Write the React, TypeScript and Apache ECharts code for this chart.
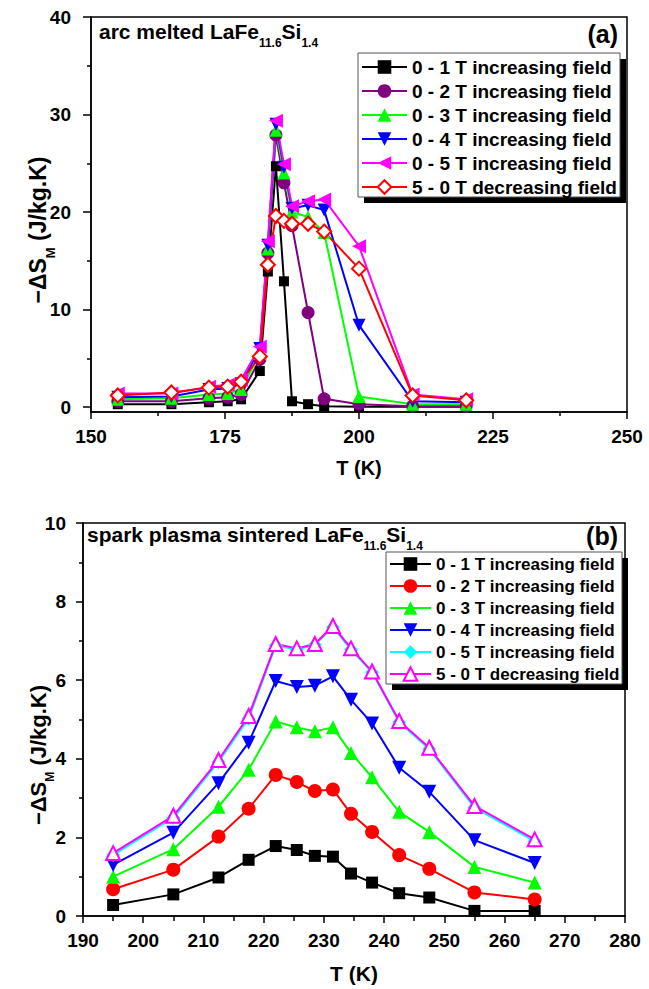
import React, { useEffect, useRef } from "react";
import * as echarts from "echarts";

const FONT = "'Liberation Sans', Arial, Helvetica, sans-serif";

// ---------- Panel (a): arc melted ----------
const tempA = [155, 165, 172, 175.5, 178, 181.5, 183, 184.5, 186, 187.5, 190.5, 193.5, 200, 210, 220];
const a01 = [0.3, 0.3, 0.5, 0.6, 0.8, 3.7, 13.9, 24.7, 12.9, 0.6, 0.3, 0.1, 0.05, 0.05, 0.05];
const a02 = [0.6, 0.6, 0.9, 1.0, 1.3, 4.9, 15.8, 27.9, 23.0, 18.6, 9.7, 0.85, 0.3, 0.1, 0.1];
const a03 = [0.8, 0.9, 1.3, 1.4, 1.8, 5.5, 16.2, 28.4, 24.0, 20.0, 19.5, 17.9, 1.1, 0.3, 0.3];
const a04 = [1.0, 1.1, 1.8, 1.9, 2.4, 6.0, 16.6, 29.0, 24.6, 20.4, 20.7, 20.2, 8.4, 0.6, 0.5];
const a05 = [1.4, 1.4, 2.1, 2.3, 2.8, 6.2, 17.0, 29.35, 24.9, 20.6, 21.1, 21.3, 16.5, 1.3, 0.8];
const a50 = [1.2, 1.5, 2.0, 2.1, 2.6, 5.2, 14.6, 19.6, 19.1, 18.8, 18.8, 18.0, 14.2, 1.2, 0.7];
const yTicksA = [0, 10, 20, 30, 40];
const yMinorA = [5, 15, 25, 35];

// ---------- Panel (b): spark plasma sintered ----------
const tempB = [195, 205, 212.5, 217.5, 222, 225.5, 228.5, 231.5, 234.5, 238, 242.5, 247.5, 255, 265];
const b01 = [0.28, 0.55, 0.98, 1.43, 1.78, 1.68, 1.53, 1.51, 1.08, 0.85, 0.58, 0.47, 0.13, 0.13];
const b02 = [0.68, 1.18, 2.02, 2.73, 3.59, 3.41, 3.18, 3.22, 2.6, 2.14, 1.55, 1.2, 0.6, 0.42];
const b03 = [1.0, 1.7, 2.78, 3.72, 4.95, 4.8, 4.7, 4.8, 4.15, 3.53, 2.65, 2.14, 1.25, 0.85];
const b04 = [1.3, 2.12, 3.38, 4.41, 5.98, 5.83, 5.86, 6.1, 5.5, 4.9, 3.77, 3.16, 1.93, 1.35];
const b05 = [1.55, 2.5, 3.92, 5.02, 6.88, 6.78, 6.9, 7.35, 6.78, 6.2, 4.93, 4.25, 2.76, 1.9];
const b50 = [1.6, 2.55, 3.97, 5.09, 6.92, 6.81, 6.92, 7.38, 6.81, 6.22, 4.96, 4.28, 2.8, 1.95];

const names = [
  "0 - 1 T increasing field",
  "0 - 2 T increasing field",
  "0 - 3 T increasing field",
  "0 - 4 T increasing field",
  "0 - 5 T increasing field",
  "5 - 0 T decreasing field",
];

const pairs = (xs: number[], ys: number[]) => xs.map((x, i) => [x, ys[i]]);

function mkSeries(
  name: string,
  xs: number[],
  ys: number[],
  color: string,
  symbol: string,
  size: number,
  rotate: number,
  open: boolean
) {
  return {
    type: "line",
    name,
    data: pairs(xs, ys),
    symbol,
    symbolSize: size,
    symbolRotate: rotate,
    showSymbol: true,
    showAllSymbol: true,
    lineStyle: { color, width: 2 },
    itemStyle: open
      ? { color: "#ffffff", borderColor: color, borderWidth: 2 }
      : { color, borderColor: color, borderWidth: 0 },
    emphasis: { disabled: true },
  };
}

const axisLineStyle = { color: "#000", width: 1.5 };
const labelStyle = { fontSize: 19, fontWeight: "bold", color: "#000", fontFamily: FONT };

function titleRich(main: number, sub: number, pad: number) {
  return {
    m: {
      fontSize: main,
      fontWeight: "bold",
      fontFamily: FONT,
      fill: "#000",
      color: "#000",
      lineHeight: main,
      verticalAlign: "top",
    },
    s: {
      fontSize: sub,
      fontWeight: "bold",
      fontFamily: FONT,
      fill: "#000",
      color: "#000",
      lineHeight: sub,
      verticalAlign: "top",
      padding: [pad, 0, 0, 0],
    },
  };
}

function textEl(x: number, y: number, text: string, size: number, align: string, valign: string) {
  return {
    type: "text",
    x,
    y,
    z: 30,
    style: {
      text,
      fill: "#000",
      fontSize: size,
      fontWeight: "bold",
      fontFamily: FONT,
      align,
      textAlign: align,
      verticalAlign: valign,
      textVerticalAlign: valign,
    },
  };
}

function richEl(
  x: number,
  y: number,
  text: string,
  rotation: number,
  align: string,
  valign: string,
  main: number,
  sub: number,
  pad: number
) {
  return {
    type: "text",
    x,
    y,
    rotation,
    z: 30,
    style: {
      text,
      fill: "#000",
      fontSize: main,
      fontWeight: "bold",
      fontFamily: FONT,
      align,
      textAlign: align,
      verticalAlign: valign,
      textVerticalAlign: valign,
      rich: titleRich(main, sub, pad),
    },
  };
}

function legendBox(x: number, y: number, w: number, h: number, off: number) {
  return [
    { type: "rect", z: 20, shape: { x: x + off, y: y + off, width: w, height: h }, style: { fill: "#000" } },
    { type: "rect", z: 21, shape: { x, y, width: w, height: h }, style: { fill: "#fff", stroke: "#555", lineWidth: 1 } },
  ];
}

function optionA() {
  return {
    animation: false,
    grid: { left: 91, top: 17, width: 536, height: 395, show: true, borderColor: "#000", borderWidth: 1.5, backgroundColor: "transparent" },
    xAxis: {
      type: "value",
      min: 150,
      max: 250,
      interval: 25,
      axisLine: { show: true, onZero: false, lineStyle: axisLineStyle },
      axisTick: { show: true, inside: false, length: 7, lineStyle: axisLineStyle },
      minorTick: { show: true, splitNumber: 2, length: 4, lineStyle: axisLineStyle },
      splitLine: { show: false },
      axisLabel: { ...labelStyle, margin: 15 },
      name: "T (K)",
      nameLocation: "middle",
      nameGap: 46,
      nameTextStyle: { fontSize: 20, fontWeight: "bold", color: "#000", fontFamily: FONT },
    },
    yAxis: [
      {
        type: "value",
        min: -0.5,
        max: 40,
        position: "left",
        axisLine: { show: true, onZero: false, lineStyle: axisLineStyle },
        axisTick: { show: true, inside: false, length: 8, customValues: yTicksA, lineStyle: axisLineStyle },
        axisLabel: { ...labelStyle, margin: 20, customValues: yTicksA },
        splitLine: { show: false },
      },
      {
        type: "value",
        min: -0.5,
        max: 40,
        position: "left",
        offset: 0,
        axisLine: { show: false, onZero: false },
        axisTick: { show: true, inside: false, length: 4, customValues: yMinorA, lineStyle: axisLineStyle },
        axisLabel: { show: false },
        splitLine: { show: false },
      },
    ],
    legend: {
      orient: "vertical",
      left: 361,
      top: 55,
      padding: 0,
      itemWidth: 45,
      itemHeight: 17,
      itemGap: 0,
      z: 25,
      selectedMode: false,
      textStyle: { fontSize: 19, fontWeight: "bold", color: "#000", fontFamily: FONT, lineHeight: 24 },
      data: names,
    },
    graphic: [
      ...legendBox(358, 53, 262, 144, 6),
      richEl(99, 21, "{m|arc melted LaFe}{s|11.6}{m|Si}{s|1.4}", 0, "left", "top", 21, 12, 16),
      textEl(618, 34, "(a)", 25, "right", "middle"),
      richEl(38, 230, "{m|−ΔS}{s|M}{m| (J/kg.K)}", Math.PI / 2, "center", "middle", 23, 13, 17),
    ],
    series: [
      mkSeries(names[0], tempA, a01, "#000000", "rect", 10, 0, false),
      mkSeries(names[1], tempA, a02, "#800080", "circle", 13, 0, false),
      mkSeries(names[2], tempA, a03, "#00ff00", "triangle", 13, 0, false),
      mkSeries(names[3], tempA, a04, "#0000ff", "triangle", 13, 180, false),
      mkSeries(names[4], tempA, a05, "#ff00ff", "triangle", 14, 90, false),
      mkSeries(names[5], tempA, a50, "#ff0000", "diamond", 14, 0, true),
    ],
  };
}

function optionB() {
  return {
    animation: false,
    grid: { left: 83, top: 28, width: 542, height: 400, show: true, borderColor: "#000", borderWidth: 1.5, backgroundColor: "transparent" },
    xAxis: {
      type: "value",
      min: 190,
      max: 280,
      interval: 10,
      axisLine: { show: true, onZero: false, lineStyle: axisLineStyle },
      axisTick: { show: true, inside: false, length: 7, lineStyle: axisLineStyle },
      minorTick: { show: true, splitNumber: 2, length: 5, lineStyle: axisLineStyle },
      splitLine: { show: false },
      axisLabel: { ...labelStyle, margin: 15 },
      name: "T (K)",
      nameLocation: "middle",
      nameGap: 47,
      nameTextStyle: { fontSize: 21, fontWeight: "bold", color: "#000", fontFamily: FONT },
    },
    yAxis: {
      type: "value",
      min: 0,
      max: 10,
      interval: 2,
      axisLine: { show: true, onZero: false, lineStyle: axisLineStyle },
      axisTick: { show: true, inside: false, length: 7, lineStyle: axisLineStyle },
      minorTick: { show: true, splitNumber: 2, length: 4, lineStyle: axisLineStyle },
      axisLabel: { ...labelStyle, margin: 17 },
      splitLine: { show: false },
    },
    legend: {
      orient: "vertical",
      left: 389,
      top: 58,
      padding: 0,
      itemWidth: 41,
      itemHeight: 17,
      itemGap: 0,
      z: 25,
      selectedMode: false,
      textStyle: { fontSize: 17, fontWeight: "bold", color: "#000", fontFamily: FONT, lineHeight: 22 },
      data: names,
    },
    graphic: [
      ...legendBox(386, 57, 236, 132, 6),
      richEl(87, 29, "{m|spark plasma sintered LaFe}{s|11.6}{m|Si}{s|1.4}", 0, "left", "top", 21, 12, 16),
      textEl(618, 41, "(b)", 25, "right", "middle"),
      richEl(38, 260, "{m|−ΔS}{s|M}{m| (J/kg.K)}", Math.PI / 2, "center", "middle", 22, 12, 17),
    ],
    series: [
      mkSeries(names[0], tempB, b01, "#000000", "rect", 12, 0, false),
      mkSeries(names[1], tempB, b02, "#ff0000", "circle", 14, 0, false),
      mkSeries(names[2], tempB, b03, "#00ff00", "triangle", 14, 0, false),
      mkSeries(names[3], tempB, b04, "#0000ff", "triangle", 14, 180, false),
      mkSeries(names[4], tempB, b05, "#00ffff", "diamond", 14, 0, false),
      mkSeries(names[5], tempB, b50, "#ff00ff", "triangle", 14, 0, true),
    ],
  };
}

export default function App() {
  const refA = useRef<HTMLDivElement>(null);
  const refB = useRef<HTMLDivElement>(null);
  useEffect(() => {
    const ca = echarts.init(refA.current!, null, { renderer: "svg" });
    const cb = echarts.init(refB.current!, null, { renderer: "svg" });
    ca.setOption(optionA() as any);
    cb.setOption(optionB() as any);
    return () => {
      ca.dispose();
      cb.dispose();
    };
  }, []);
  return (
    <div style={{ position: "absolute", left: 0, top: 0, width: 649, height: 989, background: "#fff" }}>
      <div ref={refA} style={{ position: "absolute", left: 0, top: 0, width: 649, height: 495 }} />
      <div ref={refB} style={{ position: "absolute", left: 0, top: 495, width: 649, height: 494 }} />
    </div>
  );
}
